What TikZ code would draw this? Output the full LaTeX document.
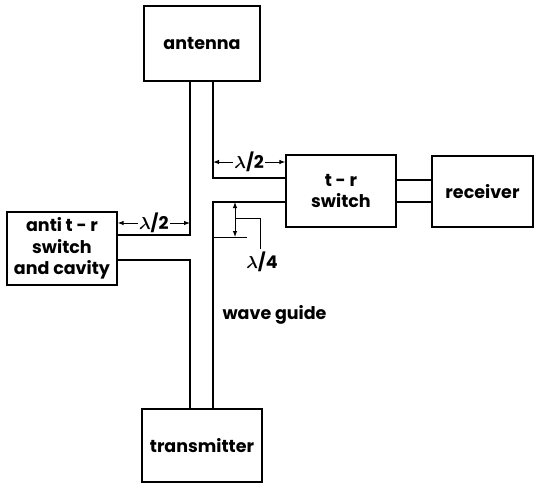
\documentclass[tikz,border=0pt]{standalone}
\usepackage{fontspec}
\setmainfont{Poppins}
\usetikzlibrary{arrows.meta, positioning}

\begin{document}
\begin{tikzpicture}[
  x=1pt, y=-1pt,
  every node/.style={font=\fontsize{17.5}{21.5}\selectfont\bfseries\boldmath},
  block/.style={rectangle, draw, line width=1.2pt, align=center,
                minimum width=#1, inner sep=1pt},
  wall/.style={line width=1.2pt},
  dim/.style={{Latex[length=6pt,width=4.5pt]}-{Latex[length=6pt,width=4.5pt]}, line width=1pt},
  lbl/.style={fill=white, inner sep=1pt},
]
\useasboundingbox (0,0) rectangle (535,483);

% ── Blocs ────────────────────────────────────────────────────────────
\node[block=116pt, minimum height=75pt] (antenna)     at (202, 43.5)  {antenna};
\node[block=110pt, minimum height=72pt] (tr)          at (341, 191)   {t - r\\switch};
\node[block=101pt, minimum height=71pt] (receiver)    at (482.5, 191.5) {receiver};
\node[block=110pt, minimum height=73pt] (atr)         at (62, 248.5)  {anti t - r\\switch\\and cavity};
\node[block=120pt, minimum height=73pt] (transmitter) at (202, 445.5) {transmitter};

% ── Parois du guide d'ondes ──────────────────────────────────────────
\coordinate (lwall) at (190, 0);
\coordinate (rwall) at (213, 0);

\draw[wall] (antenna.south -| lwall) -- (190, 235) -- (atr.east |- 0, 235);
\draw[wall] (atr.east |- 0, 260) -- (190, 260) -- (transmitter.north -| lwall);
\draw[wall] (antenna.south -| rwall) -- (213, 178) -- (tr.west |- 0, 178);
\draw[wall] (tr.west |- 0, 202) -- (213, 202) -- (transmitter.north -| rwall);

% ── Liaison t-r / récepteur ──────────────────────────────────────────
\draw[wall] (tr.east |- 0, 180) -- (receiver.west |- 0, 180);
\draw[wall] (tr.east |- 0, 202) -- (receiver.west |- 0, 202);

% ── Cotes ────────────────────────────────────────────────────────────
\draw[dim] (213, 162) -- (tr.west |- 0, 162)
  node[lbl, midway] {$\lambda$/2};
\draw[dim] (atr.east |- 0, 223) -- (190, 223)
  node[lbl, midway] {$\lambda$/2};

\coordinate (qtop) at (235, 202);
\coordinate (qbot) at (235, 237);
\draw[dim] (qtop) -- (qbot);
\draw[line width=1pt] (213, 237) -- (247, 237);
\draw[line width=1pt] (235, 218) -- (260, 218) -- (260, 249);
\node (quarter) at (262, 262) {$\lambda$/4};

% ── Légende du guide ─────────────────────────────────────────────────
\node[anchor=west] (guide) at (219, 315) {wave guide};

\end{tikzpicture}
\end{document}
